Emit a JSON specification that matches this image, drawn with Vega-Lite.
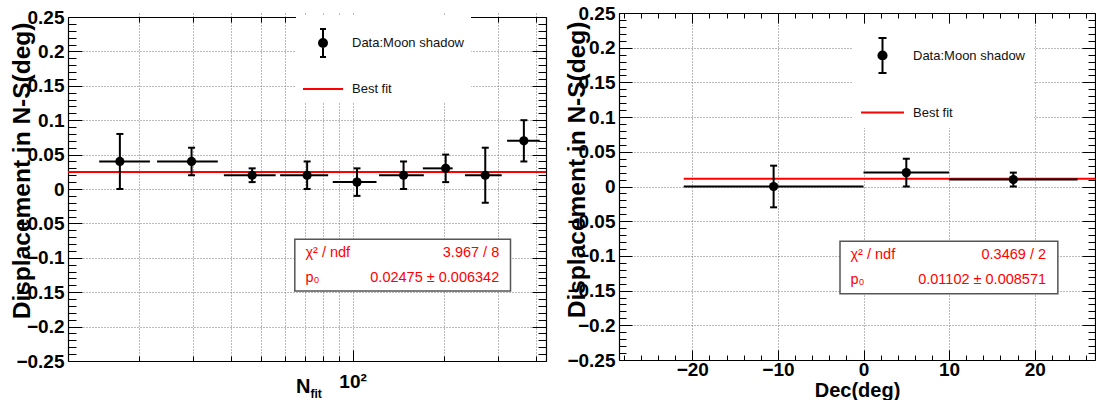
{
  "$schema": "https://vega.github.io/schema/vega-lite/v6.json",
  "padding": {"left": 8, "top": 4, "right": 0, "bottom": 0},
  "spacing": 16,
  "background": "white",
  "config": {
    "view": {"stroke": null},
    "axis": {"labelFont": "Liberation Sans", "titleFont": "Liberation Sans", "tickColor": "black", "domainColor": "black", "labelColor": "black", "titleColor": "black", "gridColor": "#777777", "gridDash": [1, 2], "gridWidth": 1, "tickWidth": 1, "domainWidth": 1.2, "labelFlush": false, "labelOverlap": false}
  },
  "resolve": {"scale": {"x": "independent", "y": "independent", "stroke": "independent", "shape": "independent"}, "legend": {"stroke": "independent", "shape": "independent"}},
  "hconcat": [
    {
      "width": 478,
      "height": 348,
      "data": {"values": [
        {"n": 17.3, "nlo": 14.8, "nhi": 21.7, "d": 0.04, "dlo": 0.0, "dhi": 0.08},
        {"n": 29.7, "nlo": 22.9, "nhi": 36.2, "d": 0.04, "dlo": 0.02, "dhi": 0.06},
        {"n": 46.9, "nlo": 37.9, "nhi": 56.0, "d": 0.02, "dlo": 0.01, "dhi": 0.03},
        {"n": 71.0, "nlo": 57.9, "nhi": 83.2, "d": 0.02, "dlo": 0.0, "dhi": 0.04},
        {"n": 103.4, "nlo": 86.1, "nhi": 119.8, "d": 0.01, "dlo": -0.01, "dhi": 0.03},
        {"n": 146.9, "nlo": 122.1, "nhi": 171.2, "d": 0.02, "dlo": 0.0, "dhi": 0.04},
        {"n": 201.8, "nlo": 169.9, "nhi": 212.7, "d": 0.03, "dlo": 0.01, "dhi": 0.05},
        {"n": 272.0, "nlo": 233.4, "nhi": 307.9, "d": 0.02, "dlo": -0.02, "dhi": 0.06},
        {"n": 363.9, "nlo": 320.6, "nhi": 410.1, "d": 0.07, "dlo": 0.04, "dhi": 0.1}
      ]},
      "resolve": {"axis": {"x": "independent", "y": "independent"}},
      "layer": [
        {
          "data": {"values": [{}]},
          "mark": {"type": "rule", "color": "#ff0000", "strokeWidth": 2},
          "encoding": {
            "y": {"datum": 0.02475, "type": "quantitative", "scale": {"domain": [-0.25, 0.25], "range": [348, 4], "nice": false, "zero": false},
              "axis": {"orient": "left", "values": [-0.25, -0.2, -0.15, -0.1, -0.05, 0, 0.05, 0.1, 0.15, 0.2, 0.25], "format": "~g", "tickSize": -14, "labelPadding": 18, "labelFontSize": 19, "labelFontWeight": "bold", "grid": true, "domain": true,
                "title": "Displacement in N-S(deg)", "titleFontSize": 24.5, "titleFontWeight": "bold", "titleAngle": -90, "titleAlign": "right", "titleBaseline": "alphabetic", "titleX": -39, "titleY": 9}}
          }
        },
        {
          "mark": {"type": "rule", "color": "black", "strokeWidth": 2},
          "encoding": {
            "x": {"field": "nlo", "type": "quantitative", "scale": {"type": "log", "domain": [11.7, 430], "nice": false},
              "axis": {"orient": "bottom", "values": [100], "tickSize": -11, "labelExpr": "'10²'", "labelPadding": 22, "labelFontSize": 19, "labelFontWeight": "bold", "grid": true, "domain": true,
                "title": "N", "titleFontSize": 20, "titleFontWeight": "bold", "titleAlign": "right", "titleBaseline": "alphabetic", "titleX": 242, "titleY": 31}},
            "x2": {"field": "nhi"},
            "y": {"field": "d", "type": "quantitative", "scale": {"domain": [-0.25, 0.25], "range": [348, 4], "nice": false, "zero": false},
              "axis": {"orient": "left", "values": [-0.24, -0.23, -0.22, -0.21, -0.19, -0.18, -0.17, -0.16, -0.14, -0.13, -0.12, -0.11, -0.09, -0.08, -0.07, -0.06, -0.04, -0.03, -0.02, -0.01, 0.01, 0.02, 0.03, 0.04, 0.06, 0.07, 0.08, 0.09, 0.11, 0.12, 0.13, 0.14, 0.16, 0.17, 0.18, 0.19, 0.21, 0.22, 0.23, 0.24], "tickSize": -8, "labels": false, "grid": false, "domain": false, "title": null}}
          }
        },
        {
          "mark": {"type": "rule", "color": "black", "strokeWidth": 2},
          "encoding": {
            "x": {"field": "n", "type": "quantitative", "scale": {"type": "log", "domain": [11.7, 430], "nice": false},
              "axis": {"orient": "bottom", "values": [20, 30, 40, 50, 60, 70, 80, 90, 200, 300, 400], "tickSize": -5, "labels": false, "grid": true, "domain": false, "title": null}},
            "y": {"field": "dlo", "type": "quantitative", "scale": {"domain": [-0.25, 0.25], "range": [348, 4], "nice": false, "zero": false},
              "axis": {"orient": "right", "values": [-0.25, -0.2, -0.15, -0.1, -0.05, 0, 0.05, 0.1, 0.15, 0.2, 0.25], "tickSize": -14, "labels": false, "grid": false, "domain": true, "title": null}},
            "y2": {"field": "dhi"}
          }
        },
        {
          "mark": {"type": "tick", "orient": "horizontal", "size": 7, "thickness": 2, "color": "black", "opacity": 1},
          "encoding": {
            "x": {"field": "n", "type": "quantitative", "scale": {"type": "log", "domain": [11.7, 430], "nice": false},
              "axis": {"orient": "top", "offset": -4, "values": [20, 30, 40, 50, 60, 70, 80, 90, 200, 300, 400], "tickSize": -5, "labels": false, "grid": false, "domain": true, "title": null}},
            "y": {"field": "dhi", "type": "quantitative", "scale": {"domain": [-0.25, 0.25], "range": [348, 4], "nice": false, "zero": false},
              "axis": {"orient": "right", "values": [-0.24, -0.23, -0.22, -0.21, -0.19, -0.18, -0.17, -0.16, -0.14, -0.13, -0.12, -0.11, -0.09, -0.08, -0.07, -0.06, -0.04, -0.03, -0.02, -0.01, 0.01, 0.02, 0.03, 0.04, 0.06, 0.07, 0.08, 0.09, 0.11, 0.12, 0.13, 0.14, 0.16, 0.17, 0.18, 0.19, 0.21, 0.22, 0.23, 0.24], "tickSize": -8, "labels": false, "grid": false, "domain": false, "title": null}}
          }
        },
        {
          "mark": {"type": "tick", "orient": "horizontal", "size": 7, "thickness": 2, "color": "black", "opacity": 1},
          "encoding": {
            "x": {"field": "n", "type": "quantitative", "scale": {"type": "log", "domain": [11.7, 430], "nice": false},
              "axis": {"orient": "top", "offset": -4, "values": [100], "tickSize": -11, "labels": false, "grid": false, "domain": false, "title": null}},
            "y": {"field": "dlo", "type": "quantitative", "scale": {"domain": [-0.25, 0.25], "range": [348, 4], "nice": false, "zero": false}, "axis": null}
          }
        },
        {
          "mark": {"type": "point", "filled": true, "size": 85, "opacity": 1, "shape": "circle", "color": "black"},
          "encoding": {
            "x": {"field": "n", "type": "quantitative", "scale": {"type": "log", "domain": [11.7, 430], "nice": false},
              "axis": {"orient": "bottom", "values": [], "ticks": false, "labels": false, "grid": false, "domain": false,
                "title": "fit", "titleFontSize": 12, "titleFontWeight": "bold", "titleAlign": "left", "titleBaseline": "alphabetic", "titleX": 242, "titleY": 36}},
            "y": {"field": "d", "type": "quantitative", "scale": {"domain": [-0.25, 0.25], "range": [348, 4], "nice": false, "zero": false}, "axis": null}
          }
        },
        {
          "data": {"values": [{}]},
          "mark": {"type": "point", "filled": false, "opacity": 0},
          "encoding": {
            "stroke": {"datum": "Data:Moon shadow", "type": "nominal",
              "scale": {"domain": ["Data:Moon shadow", "Best fit"], "range": ["black", "#ff0000"]},
              "legend": {"title": null, "orient": "none", "legendX": 228, "legendY": 3, "padding": 6, "fillColor": "white", "strokeColor": null,
                "symbolSize": 1600, "symbolStrokeWidth": 2, "symbolOpacity": 1, "labelOffset": 8, "labelFontSize": 13, "labelFont": "Liberation Sans", "labelColor": "#111111", "labelLimit": 0, "rowPadding": 7,
                "labelExpr": "datum.label === 'Data:Moon shadow' ? datum.label + '                ' : datum.label"}},
            "shape": {"datum": "Data:Moon shadow", "type": "nominal",
              "scale": {"domain": ["Data:Moon shadow", "Best fit"], "range": ["M0,-0.7L0,0.7M-0.15,-0.7L0.15,-0.7M-0.15,0.7L0.15,0.7M-0.2,0A0.2,0.2,0,1,0,0.2,0A0.2,0.2,0,1,0,-0.2,0M-0.12,0A0.12,0.12,0,1,0,0.12,0A0.12,0.12,0,1,0,-0.12,0M-0.05,0A0.05,0.05,0,1,0,0.05,0A0.05,0.05,0,1,0,-0.05,0", "M-1,0L1,0"]},
              "legend": {"title": null, "orient": "none", "legendX": 228, "legendY": 3, "padding": 6, "fillColor": "white", "strokeColor": null,
                "symbolSize": 1600, "symbolStrokeWidth": 2, "symbolOpacity": 1, "labelOffset": 8, "labelFontSize": 13, "labelFont": "Liberation Sans", "labelColor": "#111111", "labelLimit": 0, "rowPadding": 7,
                "labelExpr": "datum.label === 'Data:Moon shadow' ? datum.label + '                ' : datum.label"}}
          }
        },
        {
          "data": {"values": [{}]},
          "mark": {"type": "rect", "fill": "white", "stroke": "#555555", "strokeWidth": 1.5},
          "encoding": {
            "x": {"datum": 64.7, "type": "quantitative", "scale": {"type": "log", "domain": [11.7, 430], "nice": false}, "axis": null},
            "x2": {"datum": 329},
            "y": {"datum": -0.0729, "type": "quantitative", "scale": {"domain": [-0.25, 0.25], "range": [348, 4], "nice": false, "zero": false}, "axis": null},
            "y2": {"datum": -0.1481}
          }
        },
        {
          "data": {"values": [{}]},
          "mark": {"type": "text", "text": "χ² / ndf", "align": "left", "baseline": "alphabetic", "font": "Liberation Sans", "fontSize": 14.5, "color": "#ff0000"},
          "encoding": {
            "x": {"datum": 70.1, "type": "quantitative", "scale": {"type": "log", "domain": [11.7, 430], "nice": false}, "axis": null},
            "y": {"datum": -0.0991, "type": "quantitative", "scale": {"domain": [-0.25, 0.25], "range": [348, 4], "nice": false, "zero": false}, "axis": null}
          }
        },
        {
          "data": {"values": [{}]},
          "mark": {"type": "text", "text": "3.967 / 8", "align": "right", "baseline": "alphabetic", "font": "Liberation Sans", "fontSize": 14.5, "color": "#ff0000"},
          "encoding": {
            "x": {"datum": 302.2, "type": "quantitative", "scale": {"type": "log", "domain": [11.7, 430], "nice": false}, "axis": null},
            "y": {"datum": -0.0991, "type": "quantitative", "scale": {"domain": [-0.25, 0.25], "range": [348, 4], "nice": false, "zero": false}, "axis": null}
          }
        },
        {
          "data": {"values": [{}]},
          "mark": {"type": "text", "text": "p₀", "align": "left", "baseline": "alphabetic", "font": "Liberation Sans", "fontSize": 14.5, "color": "#ff0000"},
          "encoding": {
            "x": {"datum": 70.1, "type": "quantitative", "scale": {"type": "log", "domain": [11.7, 430], "nice": false}, "axis": null},
            "y": {"datum": -0.1346, "type": "quantitative", "scale": {"domain": [-0.25, 0.25], "range": [348, 4], "nice": false, "zero": false}, "axis": null}
          }
        },
        {
          "data": {"values": [{}]},
          "mark": {"type": "text", "text": "0.02475 ± 0.006342", "align": "right", "baseline": "alphabetic", "font": "Liberation Sans", "fontSize": 14.5, "color": "#ff0000"},
          "encoding": {
            "x": {"datum": 302.2, "type": "quantitative", "scale": {"type": "log", "domain": [11.7, 430], "nice": false}, "axis": null},
            "y": {"datum": -0.1346, "type": "quantitative", "scale": {"domain": [-0.25, 0.25], "range": [348, 4], "nice": false, "zero": false}, "axis": null}
          }
        }
      ]
    },
    {
      "width": 476,
      "height": 347,
      "data": {"values": [
        {"dec": -10.5, "declo": -21, "dechi": 0, "d": 0.0, "dlo": -0.03, "dhi": 0.03},
        {"dec": 5, "declo": 0, "dechi": 10, "d": 0.02, "dlo": 0.0, "dhi": 0.04},
        {"dec": 17.5, "declo": 10, "dechi": 25, "d": 0.01, "dlo": 0.0, "dhi": 0.02}
      ]},
      "resolve": {"axis": {"x": "independent", "y": "independent"}},
      "layer": [
        {
          "data": {"values": [{}]},
          "mark": {"type": "rule", "color": "#ff0000", "strokeWidth": 2},
          "encoding": {
            "x": {"datum": -21, "type": "quantitative", "scale": {"domain": [-28.56, 27.04], "nice": false, "zero": false},
              "axis": {"orient": "bottom", "values": [-20, -10, 0, 10, 20], "tickSize": -10, "labelPadding": 10, "labelFontSize": 19, "labelFontWeight": "bold", "grid": true, "domain": true,
                "title": "Dec(deg)", "titleFontSize": 20, "titleFontWeight": "bold", "titleBaseline": "alphabetic", "titleY": 36}},
            "x2": {"datum": 27.04},
            "y": {"datum": 0.01102, "type": "quantitative", "scale": {"domain": [-0.25, 0.25], "nice": false, "zero": false},
              "axis": {"orient": "left", "values": [-0.25, -0.2, -0.15, -0.1, -0.05, 0, 0.05, 0.1, 0.15, 0.2, 0.25], "format": "~g", "tickSize": -13, "labelPadding": 17, "labelFontSize": 19, "labelFontWeight": "bold", "grid": true, "domain": true,
                "title": "Displacement in N-S(deg)", "titleFontSize": 24.5, "titleFontWeight": "bold", "titleAngle": -90, "titleAlign": "right", "titleBaseline": "alphabetic", "titleX": -35, "titleY": 8}}
          }
        },
        {
          "mark": {"type": "rule", "color": "black", "strokeWidth": 2},
          "encoding": {
            "x": {"field": "declo", "type": "quantitative", "scale": {"domain": [-28.56, 27.04], "nice": false, "zero": false},
              "axis": {"orient": "bottom", "values": [-28, -26, -24, -22, -18, -16, -14, -12, -8, -6, -4, -2, 2, 4, 6, 8, 12, 14, 16, 18, 22, 24, 26], "tickSize": -5, "labels": false, "grid": false, "domain": false, "title": null}},
            "x2": {"field": "dechi"},
            "y": {"field": "d", "type": "quantitative", "scale": {"domain": [-0.25, 0.25], "nice": false, "zero": false},
              "axis": {"orient": "left", "values": [-0.24, -0.23, -0.22, -0.21, -0.19, -0.18, -0.17, -0.16, -0.14, -0.13, -0.12, -0.11, -0.09, -0.08, -0.07, -0.06, -0.04, -0.03, -0.02, -0.01, 0.01, 0.02, 0.03, 0.04, 0.06, 0.07, 0.08, 0.09, 0.11, 0.12, 0.13, 0.14, 0.16, 0.17, 0.18, 0.19, 0.21, 0.22, 0.23, 0.24], "tickSize": -7, "labels": false, "grid": false, "domain": false, "title": null}}
          }
        },
        {
          "mark": {"type": "rule", "color": "black", "strokeWidth": 2},
          "encoding": {
            "x": {"field": "dec", "type": "quantitative", "scale": {"domain": [-28.56, 27.04], "nice": false, "zero": false},
              "axis": {"orient": "top", "values": [-20, -10, 0, 10, 20], "tickSize": -10, "labels": false, "grid": false, "domain": true, "title": null}},
            "y": {"field": "dlo", "type": "quantitative", "scale": {"domain": [-0.25, 0.25], "nice": false, "zero": false},
              "axis": {"orient": "right", "values": [-0.25, -0.2, -0.15, -0.1, -0.05, 0, 0.05, 0.1, 0.15, 0.2, 0.25], "tickSize": -13, "labels": false, "grid": false, "domain": true, "title": null}},
            "y2": {"field": "dhi"}
          }
        },
        {
          "mark": {"type": "tick", "orient": "horizontal", "size": 7, "thickness": 2, "color": "black", "opacity": 1},
          "encoding": {
            "x": {"field": "dec", "type": "quantitative", "scale": {"domain": [-28.56, 27.04], "nice": false, "zero": false},
              "axis": {"orient": "top", "values": [-28, -26, -24, -22, -18, -16, -14, -12, -8, -6, -4, -2, 2, 4, 6, 8, 12, 14, 16, 18, 22, 24, 26], "tickSize": -5, "labels": false, "grid": false, "domain": false, "title": null}},
            "y": {"field": "dhi", "type": "quantitative", "scale": {"domain": [-0.25, 0.25], "nice": false, "zero": false},
              "axis": {"orient": "right", "values": [-0.24, -0.23, -0.22, -0.21, -0.19, -0.18, -0.17, -0.16, -0.14, -0.13, -0.12, -0.11, -0.09, -0.08, -0.07, -0.06, -0.04, -0.03, -0.02, -0.01, 0.01, 0.02, 0.03, 0.04, 0.06, 0.07, 0.08, 0.09, 0.11, 0.12, 0.13, 0.14, 0.16, 0.17, 0.18, 0.19, 0.21, 0.22, 0.23, 0.24], "tickSize": -7, "labels": false, "grid": false, "domain": false, "title": null}}
          }
        },
        {
          "mark": {"type": "tick", "orient": "horizontal", "size": 7, "thickness": 2, "color": "black", "opacity": 1},
          "encoding": {
            "x": {"field": "dec", "type": "quantitative", "scale": {"domain": [-28.56, 27.04], "nice": false, "zero": false}, "axis": null},
            "y": {"field": "dlo", "type": "quantitative", "scale": {"domain": [-0.25, 0.25], "nice": false, "zero": false}, "axis": null}
          }
        },
        {
          "mark": {"type": "point", "filled": true, "size": 85, "opacity": 1, "shape": "circle", "color": "black"},
          "encoding": {
            "x": {"field": "dec", "type": "quantitative", "scale": {"domain": [-28.56, 27.04], "nice": false, "zero": false}, "axis": null},
            "y": {"field": "d", "type": "quantitative", "scale": {"domain": [-0.25, 0.25], "nice": false, "zero": false}, "axis": null}
          }
        },
        {
          "data": {"values": [{}]},
          "mark": {"type": "point", "filled": false, "opacity": 0},
          "encoding": {
            "stroke": {"datum": "Data:Moon shadow", "type": "nominal",
              "scale": {"domain": ["Data:Moon shadow", "Best fit"], "range": ["black", "#ff0000"]},
              "legend": {"title": null, "orient": "none", "legendX": 233, "legendY": 12, "padding": 8, "fillColor": "white", "strokeColor": null,
                "symbolSize": 1849, "symbolStrokeWidth": 2, "symbolOpacity": 1, "labelOffset": 8, "labelFontSize": 13, "labelFont": "Liberation Sans", "labelColor": "#111111", "labelLimit": 0, "rowPadding": 12,
                "labelExpr": "datum.label === 'Data:Moon shadow' ? datum.label + '            ' : datum.label"}},
            "shape": {"datum": "Data:Moon shadow", "type": "nominal",
              "scale": {"domain": ["Data:Moon shadow", "Best fit"], "range": ["M0,-0.814L0,0.814M-0.186,-0.814L0.186,-0.814M-0.186,0.814L0.186,0.814M-0.19,0A0.19,0.19,0,1,0,0.19,0A0.19,0.19,0,1,0,-0.19,0M-0.11,0A0.11,0.11,0,1,0,0.11,0A0.11,0.11,0,1,0,-0.11,0M-0.045,0A0.045,0.045,0,1,0,0.045,0A0.045,0.045,0,1,0,-0.045,0", "M-1,0L1,0"]},
              "legend": {"title": null, "orient": "none", "legendX": 233, "legendY": 12, "padding": 8, "fillColor": "white", "strokeColor": null,
                "symbolSize": 1849, "symbolStrokeWidth": 2, "symbolOpacity": 1, "labelOffset": 8, "labelFontSize": 13, "labelFont": "Liberation Sans", "labelColor": "#111111", "labelLimit": 0, "rowPadding": 12,
                "labelExpr": "datum.label === 'Data:Moon shadow' ? datum.label + '            ' : datum.label"}}
          }
        },
        {
          "data": {"values": [{}]},
          "mark": {"type": "rect", "fill": "white", "stroke": "#555555", "strokeWidth": 1.5},
          "encoding": {
            "x": {"datum": -2.745, "type": "quantitative", "scale": {"domain": [-28.56, 27.04], "nice": false, "zero": false}, "axis": null},
            "x2": {"datum": 22.7},
            "y": {"datum": -0.079, "type": "quantitative", "scale": {"domain": [-0.25, 0.25], "nice": false, "zero": false}, "axis": null},
            "y2": {"datum": -0.1545}
          }
        },
        {
          "data": {"values": [{}]},
          "mark": {"type": "text", "text": "χ² / ndf", "align": "left", "baseline": "alphabetic", "font": "Liberation Sans", "fontSize": 14.5, "color": "#ff0000"},
          "encoding": {
            "x": {"datum": -1.52, "type": "quantitative", "scale": {"domain": [-28.56, 27.04], "nice": false, "zero": false}, "axis": null},
            "y": {"datum": -0.104, "type": "quantitative", "scale": {"domain": [-0.25, 0.25], "nice": false, "zero": false}, "axis": null}
          }
        },
        {
          "data": {"values": [{}]},
          "mark": {"type": "text", "text": "0.3469 / 2", "align": "right", "baseline": "alphabetic", "font": "Liberation Sans", "fontSize": 14.5, "color": "#ff0000"},
          "encoding": {
            "x": {"datum": 21.32, "type": "quantitative", "scale": {"domain": [-28.56, 27.04], "nice": false, "zero": false}, "axis": null},
            "y": {"datum": -0.104, "type": "quantitative", "scale": {"domain": [-0.25, 0.25], "nice": false, "zero": false}, "axis": null}
          }
        },
        {
          "data": {"values": [{}]},
          "mark": {"type": "text", "text": "p₀", "align": "left", "baseline": "alphabetic", "font": "Liberation Sans", "fontSize": 14.5, "color": "#ff0000"},
          "encoding": {
            "x": {"datum": -1.52, "type": "quantitative", "scale": {"domain": [-28.56, 27.04], "nice": false, "zero": false}, "axis": null},
            "y": {"datum": -0.141, "type": "quantitative", "scale": {"domain": [-0.25, 0.25], "nice": false, "zero": false}, "axis": null}
          }
        },
        {
          "data": {"values": [{}]},
          "mark": {"type": "text", "text": "0.01102 ± 0.008571", "align": "right", "baseline": "alphabetic", "font": "Liberation Sans", "fontSize": 14.5, "color": "#ff0000"},
          "encoding": {
            "x": {"datum": 21.32, "type": "quantitative", "scale": {"domain": [-28.56, 27.04], "nice": false, "zero": false}, "axis": null},
            "y": {"datum": -0.141, "type": "quantitative", "scale": {"domain": [-0.25, 0.25], "nice": false, "zero": false}, "axis": null}
          }
        }
      ]
    }
  ]
}
